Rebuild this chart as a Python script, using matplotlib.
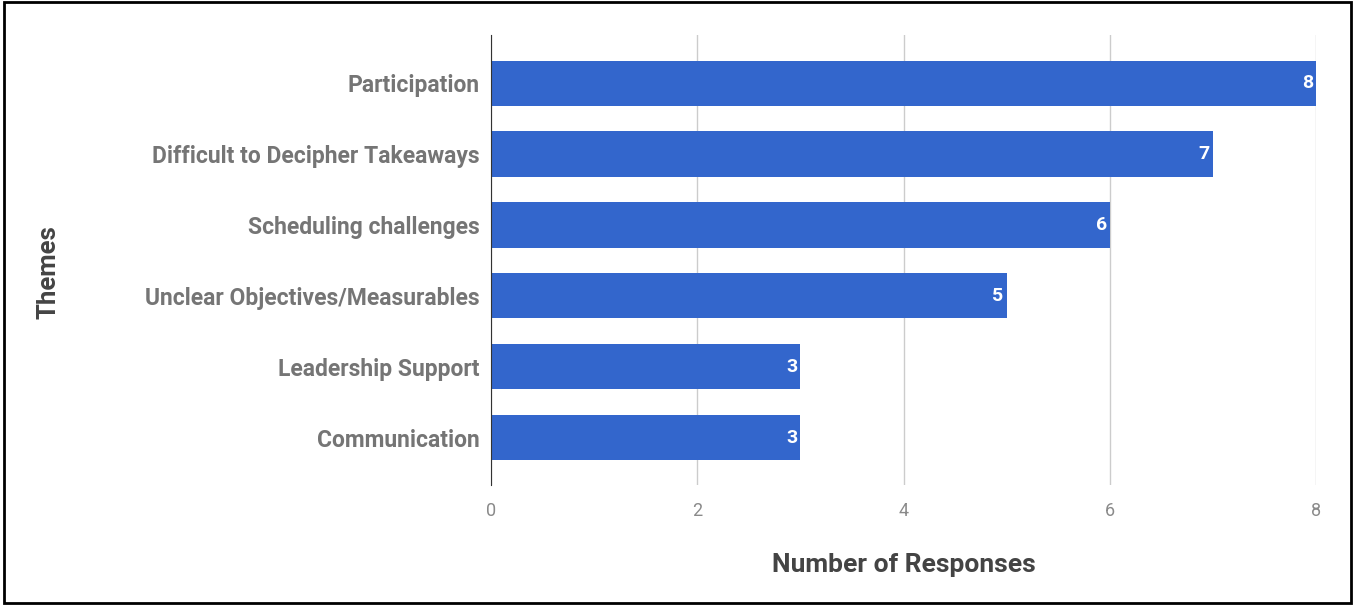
import matplotlib
matplotlib.use("Agg")
import matplotlib.pyplot as plt
from matplotlib.patches import Rectangle

# Datos
themes = ["Participation", "Difficult to Decipher Takeaways", "Scheduling challenges",
          "Unclear Objectives/Measurables", "Leadership Support", "Communication"]
responses = [8, 7, 6, 5, 3, 3]
x_ticks = [0, 2, 4, 6, 8]

plt.rcParams["font.family"] = ["Roboto", "DejaVu Sans"]

BLUE = "#3366CC"
LABEL_GRAY = "#757575"

fig = plt.figure(figsize=(13.55, 6.05), dpi=100)
ax = fig.add_axes([491 / 1355, 1 - 485 / 605, (1316 - 491) / 1355, (485 - 35) / 605])

pos = list(range(len(themes)))
bars = ax.barh(pos, responses, height=0.64, color=BLUE, zorder=3)

for b, v in zip(bars, responses):
    ax.text(b.get_width() - 0.03, b.get_y() + b.get_height() / 2, str(v),
            ha="right", va="center", color="white", fontsize=14,
            fontweight="bold", zorder=4)

ax.set_ylim(len(themes) - 0.33, -0.68)
ax.set_xlim(0, 8)
ax.set_yticks(pos)
ax.set_yticklabels(themes, fontsize=16.5, fontweight="bold", color=LABEL_GRAY)
ax.set_xticks(x_ticks)
ax.set_xticklabels([str(t) for t in x_ticks], fontsize=13, color="#8a8a8a")
ax.tick_params(axis="both", length=0)
ax.tick_params(axis="x", pad=12)
ax.tick_params(axis="y", pad=8)

ax.grid(axis="x", color="#cccccc", linewidth=1, zorder=0)
for s in ["top", "right", "bottom"]:
    ax.spines[s].set_visible(False)
ax.spines["left"].set_color("#333333")
ax.spines["left"].set_zorder(5)

ax.set_xlabel("Number of Responses", fontsize=19, fontweight="bold", color="#444444", labelpad=24)
fig.text(48 / 1355, 1 - 272 / 605, "Themes", rotation=90, ha="center", va="center",
         fontsize=18.5, fontweight="bold", color="#444444")

# borde negro
fig.patches.append(Rectangle((0.003, 0.004), 0.994, 0.992, transform=fig.transFigure,
                             fill=False, edgecolor="black", linewidth=2))

fig.savefig("out.png", dpi=100)
